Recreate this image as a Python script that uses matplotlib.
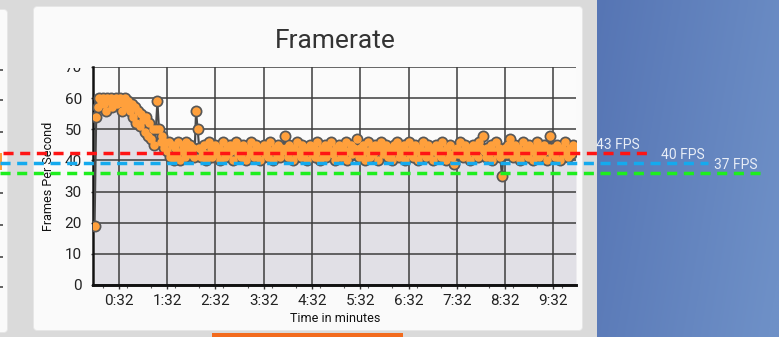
import numpy as np
import matplotlib
matplotlib.use("Agg")
import matplotlib.pyplot as plt
from matplotlib.patches import FancyBboxPatch, Rectangle
from matplotlib.transforms import Affine2D, Bbox, TransformedBbox
from matplotlib.colors import to_rgb

plt.rcParams["font.family"] = ["Roboto", "DejaVu Sans"]

W, H, DPI = 779, 337, 100

# Frame rate samples, one every SAMPLE_STEP_S seconds from SAMPLE_START_S
SAMPLE_START_S = 2
SAMPLE_STEP_S = 2
fps = [
    19, 54, 57, 60, 59, 60, 58, 56, 60, 59, 60, 57, 59, 60, 58,
    59, 60, 56, 58, 60, 57, 59, 56, 58, 54, 57, 52, 56, 51, 55,
    53, 49, 54, 48, 52, 47, 50, 45, 50, 59, 50, 46, 48, 44, 46,
    43, 46, 41, 45, 40, 44, 42, 46, 40, 43, 45, 41, 46, 43, 45,
    42, 44, 41, 56, 50, 44, 41, 43, 45, 40, 42, 46, 44, 41, 43,
    45, 42, 44, 40, 43, 46, 41, 44, 42, 45, 43, 40, 44, 46, 42,
    44, 41, 45, 43, 40, 44, 42, 46, 43, 41, 45, 42, 44, 40, 43,
    45, 42, 44, 41, 46, 43, 40, 44, 42, 45, 41, 44, 43, 48, 44,
    41, 45, 43, 40, 44, 42, 46, 43, 41, 45, 42, 44, 40, 43, 45,
    42, 44, 41, 46, 43, 40, 44, 42, 45, 41, 44, 43, 46, 42, 40,
    44, 43, 45, 41, 44, 42, 46, 40, 43, 45, 42, 44, 43, 47, 41,
    44, 42, 45, 40, 43, 46, 41, 44, 42, 45, 43, 40, 44, 46, 42,
    43, 45, 41, 44, 42, 40, 45, 43, 46, 41, 44, 42, 45, 40, 43,
    46, 42, 44, 41, 45, 43, 40, 44, 42, 46, 43, 41, 45, 42, 44,
    40, 43, 45, 42, 44, 41, 46, 43, 40, 44, 42, 45, 41, 39, 43,
    44, 42, 46, 43, 41, 45, 42, 44, 40, 43, 45, 42, 44, 41, 46,
    44, 48, 43, 41, 44, 42, 45, 40, 43, 46, 42, 44, 41, 35, 42,
    44, 42, 45, 47, 43, 41, 45, 42, 44, 40, 43, 46, 42, 44, 41,
    45, 43, 40, 44, 42, 46, 41, 44, 42, 45, 43, 40, 44, 48, 42,
    44, 41, 45, 43, 40, 44, 42, 46, 43, 41, 44, 42, 45, 43, 44,
]
time_s = SAMPLE_START_S + SAMPLE_STEP_S * np.arange(len(fps))

x_major_s = [32, 92, 152, 212, 272, 332, 392, 452, 512, 572]
x_major_labels = ["0:32", "1:32", "2:32", "3:32", "4:32",
                  "5:32", "6:32", "7:32", "8:32", "9:32"]
x_minor_s = [12, 42, 72, 102, 132, 162, 192, 222, 252, 282,
             312, 342, 372, 402, 432, 462, 492, 522, 552, 582]
y_ticks = [0, 10, 20, 30, 40, 50, 60, 70]

targets = [43, 40, 37]
target_labels = ["43 FPS", "40 FPS", "37 FPS"]
target_colors = ["#ff1414", "#14aaee", "#1eee1e"]

fig = plt.figure(figsize=(W / DPI, H / DPI), dpi=DPI, facecolor="#dadada")
# pixel transform with origin at the top-left corner
px = Affine2D().scale(1 / W, -1 / H).translate(0, 1) + fig.transFigure

# blue desktop panel on the right
bg = fig.add_axes([597 / W, 0, (W - 597) / W, 1], zorder=-10)
c0 = np.array(to_rgb("#5675b4"))
c1 = np.array(to_rgb("#6e90c7"))
gx, gy = np.meshgrid(np.linspace(0, 1, 200), np.linspace(0, 1, 100))
mix = np.clip(0.8 * gx + 0.25 * gy, 0, 1)[..., None]
bg.imshow(c0 + (c1 - c0) * mix, aspect="auto", extent=(0, 1, 0, 1), origin="upper")
bg.set_xlim(0, 1)
bg.set_ylim(0, 1)
bg.axis("off")

# cards
for x0, y0, w, h in [(-20, 9, 28, 324), (33, 6, 550, 325)]:
    fig.add_artist(FancyBboxPatch((x0 + 0.5, y0 + 0.5), w - 1, h - 1,
                                  boxstyle="round,pad=0,rounding_size=4",
                                  transform=px, facecolor="#fafafa",
                                  edgecolor="#e6e6e6", linewidth=0.6, zorder=-5))
# fragments of the neighbouring card's chart
for yy in [70, 100, 132, 163, 193, 225, 257, 287]:
    fig.add_artist(Rectangle((0, yy - 0.6), 3, 1.2, transform=px,
                             facecolor="#666666", edgecolor="none", zorder=-4))
fig.add_artist(Rectangle((0, 153), 2.5, 17, transform=px,
                         facecolor="#ffa03c", edgecolor="none", zorder=-4))
# tab indicator under the card
fig.add_artist(Rectangle((212, 333), 191, 5, transform=px,
                         facecolor="#f26b1e", edgecolor="none", zorder=-4))

# main chart
ax = fig.add_axes([93 / W, (H - 285) / H, 483 / W, 218 / H], zorder=1)
ax.set_facecolor("#fbfbfb")
ax.set_xlim(0, 600)
ax.set_ylim(0, 70)
ax.set_axisbelow("line")

ax.fill_between(time_s, fps, 0, color="#e1e0e6", linewidth=0, zorder=1)
ax.plot(time_s, fps, color="#4a4a4a", linewidth=1.5, zorder=3)
ax.plot(time_s, fps, "o", linestyle="none", markersize=8.6,
        markerfacecolor="#575757", markeredgewidth=0, zorder=4)
ax.plot(time_s, fps, "o", linestyle="none", markersize=6.1,
        markerfacecolor="#ffa03c", markeredgewidth=0, zorder=5)

ax.set_xticks(x_major_s, x_major_labels)
ax.set_xticks(x_minor_s, minor=True)
ax.set_yticks(y_ticks)
ax.grid(True, which="major", color="#3d3d3d", linewidth=1.1)
ax.tick_params(axis="x", which="major", length=2.9, width=1, color="#333333",
               pad=3.5, labelsize=11, labelcolor="#222222")
ax.tick_params(axis="x", which="minor", length=2.2, width=0.8, color="#555555")
ax.tick_params(axis="y", length=1.5, width=1, color="#333333", pad=6.5,
               labelsize=11, labelcolor="#222222")
for side in ["top", "right"]:
    ax.spines[side].set_visible(False)
ax.spines["left"].set_linewidth(1.8)
ax.spines["left"].set_color("#111111")
ax.spines["bottom"].set_linewidth(2.1)
ax.spines["bottom"].set_color("#111111")

# the top tick label is cut off by the card header
top_clip = TransformedBbox(Bbox.from_extents(0, 0, 1, (H - 68) / H), fig.transFigure)
for tick in ax.yaxis.get_major_ticks():
    tick.label1.set_clip_box(top_clip)
    tick.label1.set_clip_on(True)

fig.text(335 / W, 1 - 41 / H, "Framerate", ha="center", va="center",
         fontsize=19, color="#333333")
fig.text(48.5 / W, 1 - 176 / H, "Frames Per Second", rotation=90,
         ha="center", va="center", fontsize=9, color="#111111")
fig.text(335.5 / W, 1 - 319 / H, "Time in minutes", ha="center", va="center",
         fontsize=9, color="#111111")

# target frame-rate overlay
ov = fig.add_axes([0, 0, 1, 1], zorder=5)
ov.set_xlim(0, W)
ov.set_ylim(-11.66, 88.34)
ov.axis("off")
ov.patch.set_visible(False)
line_spans = [(3, 648), (0, 708), (0, 760)]
label_right = [640, 705, 758]
for v, lab, col, (xa, xb), xr in zip(targets, target_labels, target_colors,
                                     line_spans, label_right):
    ov.plot([xa, xb], [v, v], color=col, linewidth=2.5,
            dashes=(2.9, 1.9), solid_capstyle="butt", dash_capstyle="butt")
    ov.annotate(lab, xy=(xr, v), xytext=(0, 3), textcoords="offset points",
                ha="right", va="baseline", fontsize=10, color="#e9eef7")

fig.savefig("out.png", dpi=DPI, facecolor=fig.get_facecolor())
